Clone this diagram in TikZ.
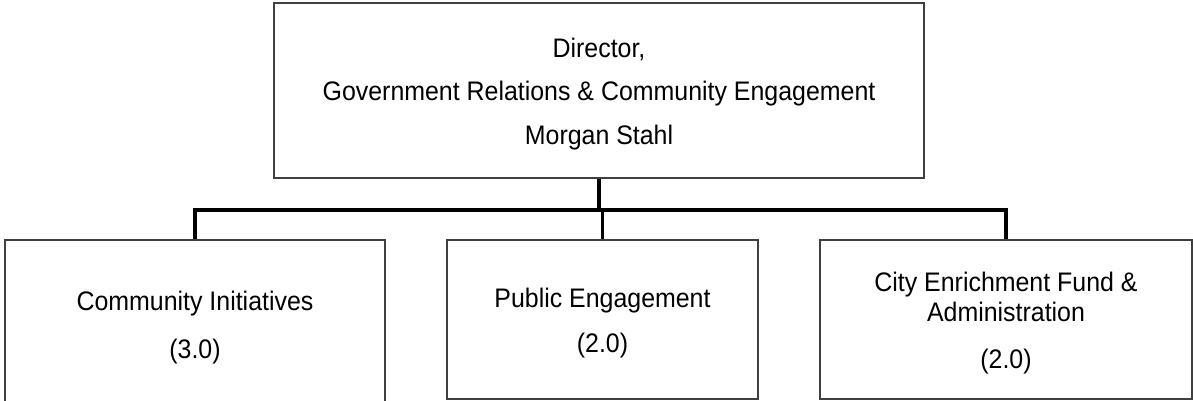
\documentclass[tikz,border=0pt]{standalone}
\usepackage{fontspec}
\setmainfont{Liberation Sans}[FakeStretch=0.93]
\definecolor{boxline}{HTML}{404040}
\begin{document}
\begin{tikzpicture}[x=1pt,y=1pt,
  orgbox/.style={draw=boxline,line width=1.6pt,rectangle,inner sep=0pt,fill=white},
  boxtext/.style={inner sep=0pt,align=center,yshift=-3.5pt},
  conn/.style={draw=black,line width=3.8pt,line join=miter,line cap=butt}]
\useasboundingbox (0,0) rectangle (1193,401);
\node[orgbox,minimum width=650pt,minimum height=175pt] (top) at (599,310.5) {};
\node[orgbox,minimum width=380pt,minimum height=168pt] (left) at (195,77) {};
\node[orgbox,minimum width=311pt,minimum height=159pt] (mid) at (602.5,81.5) {};
\node[orgbox,minimum width=372pt,minimum height=159pt] (right) at (1006,81.5) {};
\node[boxtext,font=\fontsize{26.8}{43.5}\selectfont] (topT) at (top.center)
  {Director,\\Government Relations \& Community Engagement\\Morgan Stahl};
\node[boxtext,font=\fontsize{26.8}{48}\selectfont] (leftT) at (left.center)
  {Community Initiatives\\(3.0)};
\node[boxtext,font=\fontsize{26.8}{45}\selectfont] (midT) at (mid.center)
  {Public Engagement\\(2.0)};
\node[boxtext,font=\fontsize{26.8}{30}\selectfont] (rightT) at (right.center)
  {City Enrichment Fund \&\\Administration\\[17pt](2.0)};
\coordinate (bar) at (0,191);
\draw[conn] (top.south) -- (top.south |- bar);
\draw[conn] (left.north) -- (left.north |- bar) -- (right.north |- bar) -- (right.north);
\draw[conn] (mid.north) -- (mid.north |- bar);
\end{tikzpicture}
\end{document}
